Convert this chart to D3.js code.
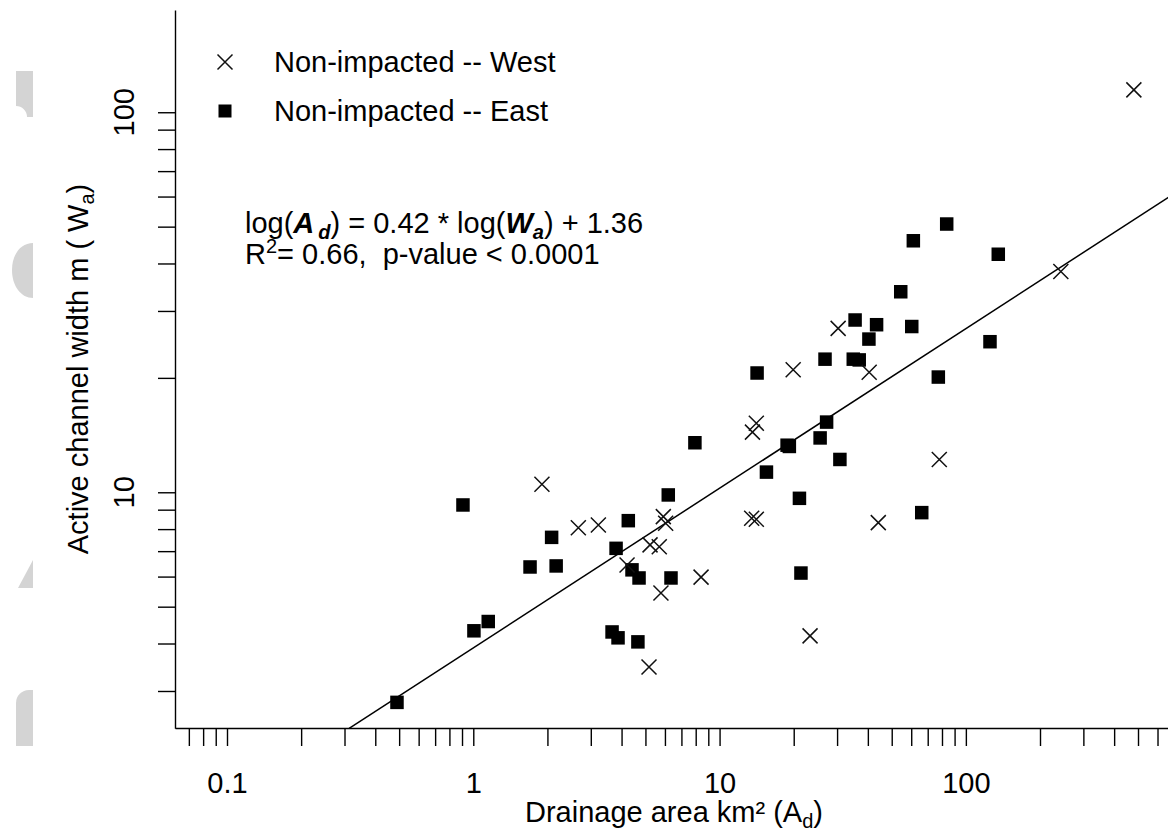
<!DOCTYPE html>
<html>
<head>
<meta charset="utf-8">
<script src="https://cdn.jsdelivr.net/npm/d3@7"></script>
<style>
body { margin: 0; background: #fff; }
svg { display: block; font-family: "Liberation Sans", Arial, sans-serif; }
.axis path, .axis line { stroke: #000; stroke-width: 1.4; }
.axis text { font-size: 29px; fill: #000; font-family: "Liberation Sans", Arial, sans-serif; }
.lbl { font-size: 29px; fill: #000; white-space: pre; }
</style>
</head>
<body>
<svg width="1168" height="833"></svg>
<script>
// **** data ****

// Non-impacted -- West (crosses)
var westArea  = [481, 243, 30.3, 19.9, 40.5, 14.1, 13.6, 78.0, 1.90, 2.67, 3.22, 5.91, 6.04,
                 13.5, 14.1, 44.1, 5.22, 5.69, 4.21, 5.78, 8.41, 23.3, 5.17];
var westWidth = [114.5, 38.1, 27.0, 21.0, 20.7, 15.2, 14.4, 12.2, 10.5, 8.07, 8.20, 8.63, 8.29,
                 8.54, 8.49, 8.32, 7.27, 7.19, 6.44, 5.43, 5.98, 4.19, 3.47];

// Non-impacted -- East (squares)
var eastArea  = [54.4, 35.5, 43.4, 60.3, 40.4, 26.8, 34.9, 36.9, 14.2, 77.3, 27.2, 18.8, 19.2,
                 7.94, 25.6, 30.8, 15.5, 6.19, 21.1, 66.2, 4.26, 2.08, 3.80, 83.6, 61.2, 135.4,
                 125.3, 1.006, 1.15, 0.49, 0.908, 1.70, 2.17, 4.41, 4.71, 6.35, 21.4, 3.66, 3.87, 4.66];
var eastWidth = [33.7, 28.4, 27.6, 27.3, 25.3, 22.4, 22.4, 22.3, 20.6, 20.1, 15.3, 13.3, 13.2,
                 13.5, 13.9, 12.2, 11.3, 9.84, 9.64, 8.84, 8.42, 7.61, 7.12, 50.8, 45.9, 42.3,
                 24.9, 4.32, 4.57, 2.80, 9.26, 6.36, 6.40, 6.25, 5.95, 5.95, 6.13, 4.29, 4.14, 4.04];

// fitted line (natural logs)
var fitSlope = 0.42;
var fitIntercept = 1.36;

var xTicks = [0.07, 0.08, 0.09, 0.1, 0.2, 0.3, 0.4, 0.5, 0.6, 0.7, 0.8, 0.9,
              1, 2, 3, 4, 5, 6, 7, 8, 9, 10, 20, 30, 40, 50, 60, 70, 80, 90,
              100, 200, 300, 400, 500, 600];
var xLabels = [0.1, 1, 10, 100];
var yTicks = [3, 4, 5, 6, 7, 8, 9, 10, 20, 30, 40, 50, 60, 70, 80, 90, 100];
var yLabels = [10, 100];

var legendNames = ["Non-impacted -- West", "Non-impacted -- East"];

// **** scales ****
var svg = d3.select("svg");

var xScale = d3.scaleLog().domain([0.0615, 700]).range([175, 1174]);
var yScale = d3.scaleLog().domain([2.393, 185.8]).range([728.3, 10]);

// faint fragments along the left edge
var grey = svg.append("g").attr("fill", "#d4d4d4");
grey.append("path").attr("d", "M16,71 H33 V117 H27 A11,11 0 0 0 16,106 Z");
grey.append("path").attr("d", "M33,243 C21,243 12,254 12,270 C12,286 21,298 33,298 Z");
grey.append("path").attr("d", "M33,560 V588 H18 Z");
grey.append("path").attr("d", "M33,690 V746 H16 V703 A13,13 0 0 1 29,690 Z");

// **** axes ****
svg.append("g").attr("class", "axis")
    .attr("transform", "translate(0,728)")
    .call(d3.axisBottom(xScale)
        .tickValues(xTicks)
        .tickSize(18)
        .tickSizeOuter(0)
        .tickPadding(26)
        .tickFormat(function(d) { return xLabels.indexOf(d) >= 0 ? d : ""; }));

svg.append("g").attr("class", "axis")
    .attr("transform", "translate(175,0)")
    .call(d3.axisLeft(yScale)
        .tickValues(yTicks)
        .tickSize(17)
        .tickSizeOuter(0)
        .tickFormat(""));

svg.append("g").selectAll("text")
    .data(yLabels)
    .enter()
    .append("text")
    .attr("class", "lbl")
    .attr("text-anchor", "middle")
    .attr("transform", function(d) { return "translate(134," + yScale(d) + ") rotate(-90)"; })
    .text(function(d) { return d; });

// axis titles
var xt = svg.append("text").attr("class", "lbl")
    .attr("text-anchor", "middle")
    .attr("x", 674).attr("y", 822);
xt.append("tspan").text("Drainage area km\u00b2 (A");
xt.append("tspan").attr("font-size", 20).attr("dy", 6).text("d");
xt.append("tspan").attr("dy", -6).text(")");

var yt = svg.append("text").attr("class", "lbl")
    .attr("text-anchor", "middle")
    .attr("transform", "translate(88,369) rotate(-90)");
yt.append("tspan").text("Active channel width m ( W");
yt.append("tspan").attr("font-size", 20).attr("dy", 6).text("a");
yt.append("tspan").attr("dy", -6).text(")");

// **** regression line ****
var yMin = yScale.domain()[0];
var aStart = Math.pow(yMin / Math.exp(fitIntercept), 1 / fitSlope);
var aEnd = xScale.domain()[1];
var fitPts = [aStart, aEnd].map(function(a) {
    return [a, Math.exp(fitIntercept) * Math.pow(a, fitSlope)];
});
svg.append("path")
    .datum(fitPts)
    .attr("fill", "none")
    .attr("stroke", "#000")
    .attr("stroke-width", 1.5)
    .attr("d", d3.line()
        .x(function(d) { return xScale(d[0]); })
        .y(function(d) { return yScale(d[1]); }));

// **** points ****
var sq = 13.5;
svg.append("g")
    .selectAll("rect")
    .data(d3.range(eastArea.length))
    .enter()
    .append("rect")
    .attr("x", function(i) { return xScale(eastArea[i]) - sq / 2; })
    .attr("y", function(i) { return yScale(eastWidth[i]) - sq / 2; })
    .attr("width", sq)
    .attr("height", sq)
    .attr("fill", "#000");

var cr = 7.5;
var crossPath = "M" + (-cr) + "," + (-cr) + "L" + cr + "," + cr + "M" + (-cr) + "," + cr + "L" + cr + "," + (-cr);
svg.append("g")
    .selectAll("path")
    .data(d3.range(westArea.length))
    .enter()
    .append("path")
    .attr("transform", function(i) { return "translate(" + xScale(westArea[i]) + "," + yScale(westWidth[i]) + ")"; })
    .attr("d", crossPath)
    .attr("stroke", "#111")
    .attr("stroke-width", 1.5)
    .attr("fill", "none");

// **** legend ****
var legend = svg.append("g");
legend.append("path")
    .attr("transform", "translate(225,62)")
    .attr("d", crossPath)
    .attr("stroke", "#111")
    .attr("stroke-width", 1.5);
legend.append("rect")
    .attr("x", 225 - 6.5).attr("y", 111 - 6.5)
    .attr("width", 13).attr("height", 13)
    .attr("fill", "#000");
legend.selectAll("text")
    .data(legendNames)
    .enter()
    .append("text")
    .attr("class", "lbl")
    .attr("x", 274)
    .attr("y", function(d, i) { return 72 + i * 49; })
    .text(function(d) { return d; });

// **** fit equation ****
var eq = svg.append("text").attr("class", "lbl").attr("x", 245).attr("y", 233);
eq.append("tspan").text("log(");
eq.append("tspan").attr("font-weight", "bold").attr("font-style", "italic").text("A");
eq.append("tspan").attr("font-weight", "bold").attr("font-style", "italic")
    .attr("font-size", 20).attr("dx", 4).attr("dy", 6).text("d");
eq.append("tspan").attr("dy", -6).text(") = " + fitSlope.toFixed(2) + " * log(");
eq.append("tspan").attr("font-weight", "bold").attr("font-style", "italic").text("W");
eq.append("tspan").attr("font-weight", "bold").attr("font-style", "italic")
    .attr("font-size", 20).attr("dy", 6).text("a");
eq.append("tspan").attr("dy", -6).text(") + " + fitIntercept.toFixed(2));

var eq2 = svg.append("text").attr("class", "lbl").attr("x", 245).attr("y", 264);
eq2.append("tspan").text("R");
eq2.append("tspan").attr("font-size", 20).attr("dy", -11).text("2");
eq2.append("tspan").attr("dy", 11).text("= 0.66,\u00a0\u00a0p-value < 0.0001");
</script>
</body>
</html>
